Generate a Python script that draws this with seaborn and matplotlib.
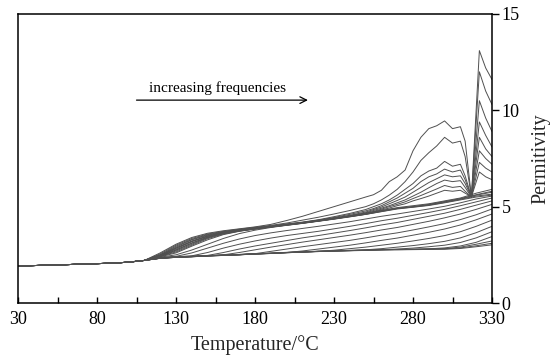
import matplotlib
matplotlib.use("Agg")
import matplotlib.pyplot as plt
import seaborn as sns
import pandas as pd

# ---------------- data ----------------
T_START = [30, 60, 90, 100, 110]
V_START = [1.92, 1.99, 2.07, 2.12, 2.21]

T_MAIN = [120, 130, 140, 150, 160, 170, 180, 190, 200, 210, 220, 230, 240,
          250, 260, 270, 280, 290, 300, 310, 320, 330]

LOW_BAND = [
    [2.32, 2.37, 2.40, 2.44, 2.47, 2.50, 2.54, 2.57, 2.61, 2.64, 2.67, 2.69, 2.71, 2.73, 2.75, 2.76, 2.77, 2.78, 2.79, 2.83, 2.92, 3.02],
    [2.33, 2.38, 2.42, 2.45, 2.49, 2.52, 2.55, 2.59, 2.63, 2.65, 2.68, 2.71, 2.73, 2.75, 2.76, 2.78, 2.79, 2.80, 2.81, 2.86, 2.97, 3.10],
    [2.34, 2.39, 2.41, 2.46, 2.48, 2.51, 2.56, 2.58, 2.62, 2.66, 2.69, 2.70, 2.72, 2.74, 2.77, 2.77, 2.78, 2.81, 2.82, 2.90, 3.05, 3.22],
]

FAN = [
    [2.36, 2.42, 2.60, 2.85, 3.10, 3.32, 3.50, 3.64, 3.76, 3.87, 3.98, 4.10, 4.22, 4.36, 4.50, 4.62, 4.75, 4.88, 5.02, 5.20, 5.40, 5.55],
    [2.35, 2.40, 2.45, 2.62, 2.85, 3.05, 3.22, 3.37, 3.50, 3.61, 3.72, 3.85, 3.98, 4.12, 4.27, 4.40, 4.55, 4.70, 4.86, 5.05, 5.25, 5.45],
    [2.34, 2.39, 2.43, 2.47, 2.62, 2.80, 2.96, 3.10, 3.24, 3.38, 3.50, 3.63, 3.76, 3.90, 4.05, 4.18, 4.34, 4.50, 4.66, 4.86, 5.08, 5.30],
    [2.33, 2.38, 2.42, 2.46, 2.50, 2.62, 2.76, 2.90, 3.03, 3.16, 3.28, 3.40, 3.52, 3.65, 3.79, 3.92, 4.08, 4.24, 4.42, 4.62, 4.86, 5.12],
    [2.33, 2.38, 2.42, 2.45, 2.48, 2.52, 2.56, 2.68, 2.80, 2.92, 3.03, 3.14, 3.25, 3.38, 3.52, 3.64, 3.79, 3.95, 4.12, 4.33, 4.58, 4.88],
    [2.32, 2.37, 2.41, 2.45, 2.48, 2.51, 2.55, 2.58, 2.62, 2.70, 2.80, 2.90, 3.00, 3.12, 3.25, 3.37, 3.52, 3.67, 3.84, 4.05, 4.32, 4.62],
    [2.33, 2.38, 2.40, 2.44, 2.47, 2.51, 2.54, 2.58, 2.61, 2.64, 2.68, 2.74, 2.82, 2.90, 3.00, 3.10, 3.22, 3.35, 3.50, 3.70, 3.98, 4.30],
    [2.32, 2.37, 2.41, 2.45, 2.48, 2.50, 2.55, 2.57, 2.62, 2.65, 2.68, 2.70, 2.73, 2.76, 2.82, 2.90, 2.98, 3.08, 3.20, 3.38, 3.65, 3.98],
    [2.33, 2.38, 2.41, 2.44, 2.47, 2.51, 2.54, 2.58, 2.61, 2.65, 2.67, 2.70, 2.72, 2.74, 2.77, 2.80, 2.85, 2.92, 3.00, 3.14, 3.38, 3.70],
    [2.32, 2.37, 2.40, 2.45, 2.48, 2.50, 2.55, 2.57, 2.62, 2.64, 2.68, 2.70, 2.72, 2.74, 2.76, 2.78, 2.79, 2.81, 2.86, 2.96, 3.15, 3.45],
]

BAND = [
    [2.45, 2.85, 3.20, 3.48, 3.66, 3.76, 3.86, 3.96, 4.06, 4.16, 4.27, 4.38, 4.50, 4.62, 4.78, 4.92, 5.00, 5.10, 5.25, 5.40, 5.60, 5.75],
    [2.50, 2.95, 3.30, 3.55, 3.70, 3.80, 3.90, 3.98, 4.10, 4.18, 4.30, 4.40, 4.52, 4.66, 4.80, 4.95, 5.05, 5.15, 5.30, 5.45, 5.70, 5.90],
    [2.42, 2.75, 3.10, 3.40, 3.62, 3.75, 3.84, 3.95, 4.05, 4.15, 4.25, 4.37, 4.48, 4.60, 4.75, 4.90, 4.98, 5.08, 5.22, 5.38, 5.55, 5.65],
    [2.40, 2.60, 2.95, 3.28, 3.55, 3.72, 3.85, 3.94, 4.04, 4.14, 4.26, 4.36, 4.49, 4.61, 4.77, 4.91, 5.00, 5.12, 5.27, 5.42, 5.62, 5.80],
    [2.38, 2.50, 2.75, 3.05, 3.35, 3.60, 3.78, 3.92, 4.03, 4.13, 4.24, 4.35, 4.47, 4.60, 4.74, 4.88, 4.97, 5.06, 5.20, 5.35, 5.50, 5.60],
]

T_ABOVE = [120, 130, 140, 150, 160, 170, 180, 190, 200, 210, 220, 230, 240, 250,
           255, 260, 265, 270, 275, 280, 285, 290, 295, 300, 305, 310, 313, 317,
           322, 326, 330]

ABOVE = [
    [2.60, 3.05, 3.40, 3.62, 3.75, 3.85, 3.95, 4.08, 4.28, 4.50, 4.75, 5.00, 5.25, 5.50, 5.62, 5.85, 6.30, 6.55, 6.90, 7.90, 8.60, 9.05, 9.20, 9.45, 9.05, 9.15, 8.40, 5.50, 13.10, 12.20, 11.60],
    [2.55, 3.00, 3.35, 3.58, 3.72, 3.83, 3.93, 4.03, 4.15, 4.30, 4.45, 4.62, 4.80, 5.00, 5.15, 5.35, 5.60, 5.90, 6.30, 6.80, 7.40, 7.80, 8.15, 8.60, 8.30, 8.40, 7.60, 5.50, 12.00, 11.00, 10.30],
    [2.50, 2.90, 3.28, 3.52, 3.68, 3.80, 3.90, 4.00, 4.10, 4.20, 4.32, 4.48, 4.65, 4.85, 5.00, 5.15, 5.35, 5.60, 5.90, 6.20, 6.60, 6.85, 7.00, 7.35, 7.10, 7.20, 6.60, 5.50, 10.50, 9.60, 8.90],
    [2.48, 2.85, 3.22, 3.48, 3.66, 3.78, 3.88, 3.98, 4.08, 4.18, 4.30, 4.44, 4.60, 4.78, 4.90, 5.05, 5.25, 5.45, 5.70, 5.95, 6.30, 6.55, 6.70, 6.95, 6.80, 6.90, 6.40, 5.50, 9.40, 8.70, 8.10],
    [2.46, 2.80, 3.18, 3.45, 3.64, 3.77, 3.87, 3.97, 4.07, 4.17, 4.28, 4.41, 4.55, 4.72, 4.85, 4.98, 5.15, 5.32, 5.50, 5.75, 6.00, 6.25, 6.45, 6.65, 6.55, 6.60, 6.20, 5.50, 8.60, 8.00, 7.60],
    [2.44, 2.75, 3.12, 3.42, 3.62, 3.76, 3.86, 3.96, 4.06, 4.16, 4.27, 4.39, 4.52, 4.68, 4.80, 4.92, 5.05, 5.20, 5.35, 5.55, 5.75, 5.98, 6.20, 6.38, 6.30, 6.35, 6.00, 5.50, 7.90, 7.50, 7.20],
    [2.43, 2.70, 3.05, 3.38, 3.60, 3.74, 3.85, 3.95, 4.05, 4.15, 4.26, 4.38, 4.50, 4.65, 4.75, 4.87, 5.00, 5.12, 5.25, 5.42, 5.58, 5.75, 5.92, 6.10, 6.00, 6.05, 5.80, 5.50, 7.30, 7.00, 6.80],
    [2.42, 2.65, 3.00, 3.34, 3.58, 3.73, 3.84, 3.94, 4.04, 4.14, 4.25, 4.37, 4.50, 4.63, 4.72, 4.83, 4.93, 5.05, 5.15, 5.30, 5.42, 5.55, 5.70, 5.85, 5.80, 5.85, 5.70, 5.52, 6.80, 6.55, 6.40],
]

X_TICKS = [30, 80, 130, 180, 230, 280, 330]
Y_TICKS = [0, 5, 10, 15]

# ---------------- build long table ----------------
rows = []
cid = 0
for group_t, group in [(T_MAIN, LOW_BAND), (T_MAIN, FAN), (T_MAIN, BAND), (T_ABOVE, ABOVE)]:
    for vals in group:
        for t, v in zip(T_START + group_t, V_START + vals):
            rows.append({"Temperature": t, "Permitivity": v, "curve": cid})
        cid += 1
df = pd.DataFrame(rows)

# ---------------- plot ----------------
sns.set_style("white")
plt.rcParams["font.family"] = ["Liberation Serif", "DejaVu Serif"]

fig = plt.figure(figsize=(5.52, 3.61), dpi=100)
ax = fig.add_axes([18 / 552, 1 - 303 / 361, (492 - 18) / 552, (303 - 14) / 361])

sns.lineplot(data=df, x="Temperature", y="Permitivity", units="curve",
             estimator=None, color="#505050", linewidth=0.7, ax=ax,
             legend=False)

ax.set_xlim(30, 330)
ax.set_ylim(0, 15)
ax.set_xticks(X_TICKS)
ax.set_xticks([55, 105, 155, 205, 255, 305], minor=True)
ax.set_yticks(Y_TICKS)

ax.yaxis.tick_right()
ax.yaxis.set_label_position("right")
ax.tick_params(axis="x", which="both", direction="in", length=4.5, width=1.0,
               top=False, bottom=True, labelsize=13, pad=6, colors="black")
ax.tick_params(axis="y", which="major", direction="out", length=5, width=1.0,
               left=False, right=True, labelsize=13, pad=2, colors="black")

for s in ax.spines.values():
    s.set_visible(True)
    s.set_color("black")
    s.set_linewidth(1.1)

ax.set_xlabel("Temperature/°C", fontsize=14.5, labelpad=5)
ax.set_ylabel("Permitivity", fontsize=14.5, labelpad=8)

ax.annotate("", xy=(213.5, 10.53), xytext=(105, 10.53),
            arrowprops=dict(arrowstyle="->", color="black", lw=0.9,
                            mutation_scale=12, shrinkA=0, shrinkB=0))
ax.text(156.5, 10.95, "increasing frequencies", fontsize=11, ha="center",
        va="baseline", color="black")

fig.savefig("out.png", dpi=100)
